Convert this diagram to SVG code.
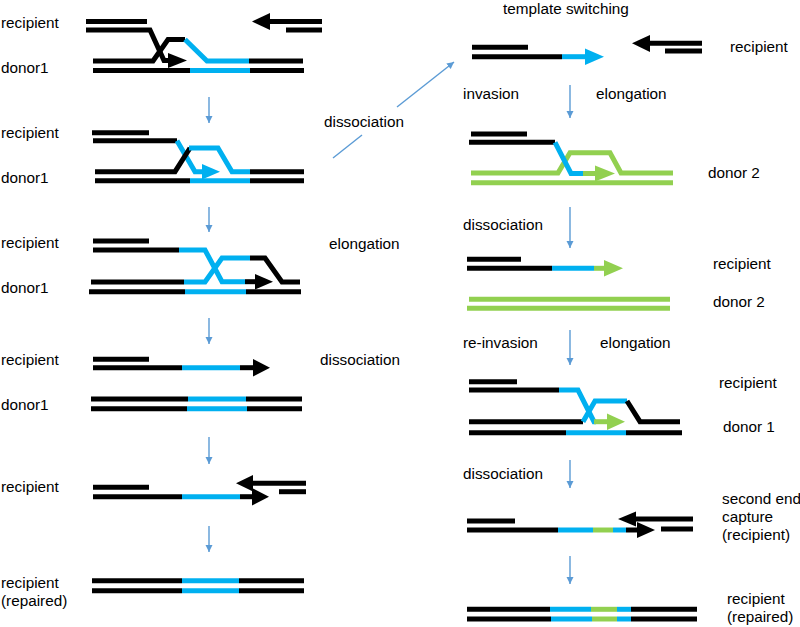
<svg xmlns="http://www.w3.org/2000/svg" width="800" height="627" viewBox="0 0 800 627">
<defs>
<style>
.k{stroke:#000;fill:none;stroke-width:5}
.b{stroke:#00B0F0;fill:none;stroke-width:5}
.g{stroke:#92D050;fill:none;stroke-width:5}
.hk{fill:#000}
.hb{fill:#00B0F0}
.hg{fill:#92D050}
.t{font-family:"Liberation Sans",Arial,sans-serif;font-size:15.3px;fill:#000}
.c{stroke:#5B9BD5;stroke-width:1.4;fill:none}
</style>
<marker id="ah" markerUnits="userSpaceOnUse" markerWidth="8" markerHeight="8" refX="7" refY="4" orient="auto">
<path d="M0,0.5 L7,4 L0,7.5 z" fill="#5B9BD5"/>
</marker>
</defs>
<rect width="800" height="627" fill="#fff"/>

<g id="L1">
<path class="k" d="M86 21.5H147"/>
<path class="k" d="M86 30H150L164 60.5H171"/>
<polygon class="hk" points="168,53 187,60.5 168,68"/>
<path class="k" d="M93 61H153L168 39.5H185"/>
<path class="b" d="M185 39.5L207 61H249"/>
<path class="k" d="M249 61H303"/>
<path class="k" d="M93 70.5H190"/><path class="b" d="M190 70.5H250"/><path class="k" d="M250 70.5H304"/>
<polygon class="hk" points="252,21.5 270,13 270,30"/>
<path class="k" d="M268 21.5H322"/>
<path class="k" d="M286 30H322"/>
<text class="t" x="1" y="28">recipient</text>
<text class="t" x="1" y="73">donor1</text>
</g>

<g id="L2">
<path class="k" d="M92 132.7H149"/>
<path class="k" d="M93 140.7H177"/>
<path class="b" d="M177 140.7L195 171.7H205"/>
<polygon class="hb" points="202,164 220,171.7 202,179.5"/>
<path class="k" d="M95 171.7H175L190 148"/>
<path class="b" d="M189 148H218L232 171.7H250"/>
<path class="k" d="M250 171.7H304"/>
<path class="k" d="M95 180.7H190"/><path class="b" d="M190 180.7H250"/><path class="k" d="M250 180.7H304"/>
<text class="t" x="1" y="138">recipient</text>
<text class="t" x="1" y="183">donor1</text>
</g>

<g id="L3">
<path class="k" d="M93 241H149"/>
<path class="k" d="M93 250H179"/>
<path class="b" d="M179 250H205L222 281.7H245"/>
<path class="k" d="M245 281.7H258"/>
<polygon class="hk" points="255,274 273,281.7 255,289.5"/>
<path class="k" d="M91 282H184"/>
<path class="b" d="M184 282H205L222 258H250"/>
<path class="k" d="M250 258H265L282 282H300"/>
<path class="k" d="M89 291.7H185"/><path class="b" d="M185 291.7H246"/><path class="k" d="M246 291.7H301"/>
<text class="t" x="1" y="248">recipient</text>
<text class="t" x="1" y="293">donor1</text>
</g>

<g id="L4">
<path class="k" d="M93 359.3H149"/>
<path class="k" d="M93 367.7H182"/><path class="b" d="M182 367.7H240"/><path class="k" d="M240 367.7H256"/>
<polygon class="hk" points="253,359 270,367.7 253,376.5"/>
<path class="k" d="M91 399H188"/><path class="b" d="M188 399H246"/><path class="k" d="M246 399H302"/>
<path class="k" d="M91 408.7H187"/><path class="b" d="M187 408.7H247"/><path class="k" d="M247 408.7H302"/>
<text class="t" x="1" y="365">recipient</text>
<text class="t" x="1" y="410">donor1</text>
</g>

<g id="L5">
<path class="k" d="M93 487.3H149"/>
<path class="k" d="M93 496.7H182"/><path class="b" d="M182 496.7H240"/><path class="k" d="M240 496.7H255"/>
<polygon class="hk" points="252,488 269,496.7 252,505.5"/>
<polygon class="hk" points="236,483.3 253,475 253,491.5"/>
<path class="k" d="M251 483.3H306"/>
<path class="k" d="M279 491.7H306"/>
<text class="t" x="1" y="492">recipient</text>
</g>

<g id="L6">
<path class="k" d="M92 580.7H182"/><path class="b" d="M182 580.7H239"/><path class="k" d="M239 580.7H304"/>
<path class="k" d="M92 590.7H182"/><path class="b" d="M182 590.7H239"/><path class="k" d="M239 590.7H304"/>
<text class="t" x="1" y="588">recipient</text>
<text class="t" x="1" y="606">(repaired)</text>
</g>

<g id="R1">
<text class="t" x="503" y="14">template switching</text>
<path class="k" d="M472 47.3H528"/>
<path class="k" d="M472 56.7H562"/><path class="b" d="M562 56.7H588"/>
<polygon class="hb" points="585,48.5 604,56.7 585,65"/>
<polygon class="hk" points="632,43.3 650,35 650,52"/>
<path class="k" d="M648 43.3H702"/>
<path class="k" d="M665 51H702"/>
<text class="t" x="730" y="52">recipient</text>
</g>

<g id="R2">
<path class="k" d="M471 134H527"/>
<path class="k" d="M469 142.3H555"/>
<path class="g" d="M471 173H558L570 152.7H610L621 173H673"/>
<path class="g" d="M471 182.7H673"/>
<path class="b" d="M555 142.3L571 173.5H584"/>
<path class="g" d="M583 173.5H598"/>
<polygon class="hg" points="595,165.5 615,173.5 595,181.5"/>
<text class="t" x="708" y="178">donor 2</text>
</g>

<g id="R3">
<path class="k" d="M467 259.3H521"/>
<path class="k" d="M467 268.3H552"/><path class="b" d="M552 268.3H594"/><path class="g" d="M594 268.3H607"/>
<polygon class="hg" points="604,260 623,268.3 604,276.5"/>
<path class="g" d="M469 299.3H670"/>
<path class="g" d="M467 308.3H670"/>
<text class="t" x="713" y="269">recipient</text>
<text class="t" x="713" y="307">donor 2</text>
</g>

<g id="R4">
<path class="k" d="M469 381.7H517"/>
<path class="k" d="M469 390H559"/>
<path class="k" d="M469 421.7H583"/>
<path class="b" d="M583 421.7L595 401H627"/>
<path class="k" d="M627 401L640 421.7H680"/>
<path class="b" d="M559 390H578L594 421.7H596"/>
<path class="g" d="M594 421.7H610"/>
<polygon class="hg" points="607,413.5 625,421.7 607,430"/>
<path class="k" d="M469 432.7H566"/><path class="b" d="M566 432.7H626"/><path class="k" d="M626 432.7H682"/>
<text class="t" x="719" y="388">recipient</text>
<text class="t" x="723" y="432">donor 1</text>
</g>

<g id="R5">
<path class="k" d="M467 521H515"/>
<path class="k" d="M467 530H558"/><path class="b" d="M558 530H593"/><path class="g" d="M593 530H613"/><path class="b" d="M613 530H626"/><path class="k" d="M626 530H640"/>
<polygon class="hk" points="637,522 655,530 637,538"/>
<polygon class="hk" points="618,519 636,511.5 636,526.5"/>
<path class="k" d="M633 519H693"/>
<path class="k" d="M661 529H693"/>
<text class="t" x="722" y="504">second end</text>
<text class="t" x="722" y="522">capture</text>
<text class="t" x="722" y="540">(recipient)</text>
</g>

<g id="R6">
<path class="k" d="M467 609.3H550"/><path class="b" d="M550 609.3H591"/><path class="g" d="M591 609.3H617"/><path class="b" d="M617 609.3H631"/><path class="k" d="M631 609.3H697"/>
<path class="k" d="M467 619H551"/><path class="b" d="M551 619H592"/><path class="g" d="M592 619H617"/><path class="b" d="M617 619H631"/><path class="k" d="M631 619H697"/>
<text class="t" x="727" y="604">recipient</text>
<text class="t" x="727" y="622">(repaired)</text>
</g>

<g id="connectors">
<path class="c" d="M209 97V123" marker-end="url(#ah)"/>
<path class="c" d="M209 207V232" marker-end="url(#ah)"/>
<path class="c" d="M209 318V344" marker-end="url(#ah)"/>
<path class="c" d="M209 437V464" marker-end="url(#ah)"/>
<path class="c" d="M209 526V552" marker-end="url(#ah)"/>
<path class="c" d="M570 85V118" marker-end="url(#ah)"/>
<path class="c" d="M570 207V248" marker-end="url(#ah)"/>
<path class="c" d="M570 330V365" marker-end="url(#ah)"/>
<path class="c" d="M570 460V488" marker-end="url(#ah)"/>
<path class="c" d="M570 556V584" marker-end="url(#ah)"/>
<path class="c" d="M333 158L362 135"/>
<path class="c" d="M397 107L454 62" marker-end="url(#ah)"/>
</g>

<g id="step-labels">
<text class="t" x="324" y="127">dissociation</text>
<text class="t" x="329" y="249">elongation</text>
<text class="t" x="320" y="365">dissociation</text>
<text class="t" x="463" y="99">invasion</text>
<text class="t" x="596" y="99">elongation</text>
<text class="t" x="463" y="230">dissociation</text>
<text class="t" x="463" y="348">re-invasion</text>
<text class="t" x="600" y="348">elongation</text>
<text class="t" x="463" y="479">dissociation</text>
</g>
</svg>
